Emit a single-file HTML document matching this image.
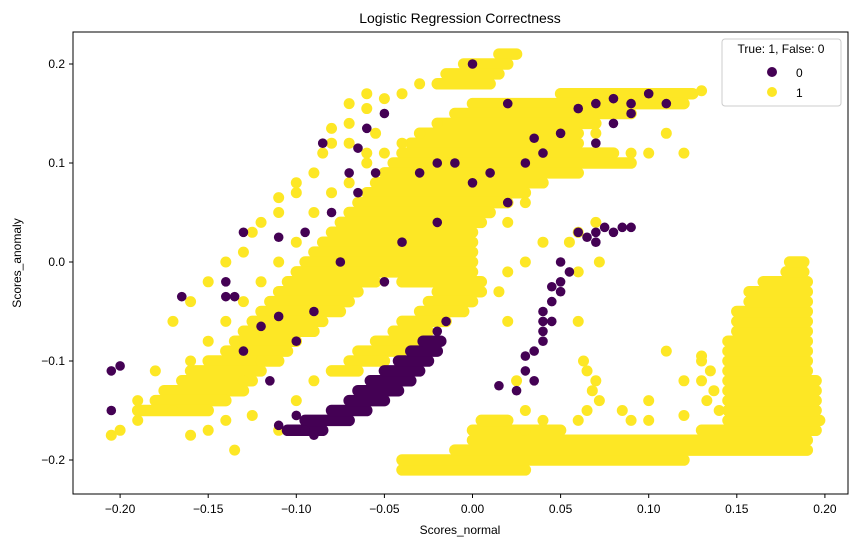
<!DOCTYPE html>
<html><head><meta charset="utf-8"><style>
body{margin:0;background:#fff;}
svg{display:block;font-family:"Liberation Sans","DejaVu Sans",sans-serif;}
</style></head><body>
<svg id="chart" width="858" height="547" viewBox="0 0 858 547" xmlns="http://www.w3.org/2000/svg">
<text x="460" y="23" font-size="14" text-anchor="middle">Logistic Regression Correctness</text>
<g id="plot"></g>
<g id="axes"></g>
<rect x="73" y="32" width="775" height="462" fill="none" stroke="#000" stroke-width="1"/>
<text x="460" y="534" font-size="12" text-anchor="middle">Scores_normal</text>
<text x="21" y="263" font-size="12" text-anchor="middle" transform="rotate(-90 21 263)">Scores_anomaly</text>
<g>
<rect x="722" y="39" width="119" height="67" rx="3" fill="#fff" fill-opacity="0.85" stroke="#ccc"/>
<text x="781" y="53" font-size="12" text-anchor="middle">True: 1, False: 0</text>
<circle cx="772" cy="72" r="5" fill="#440154"/>
<text x="796" y="77" font-size="12">0</text>
<circle cx="772" cy="92" r="5" fill="#fde725"/>
<text x="796" y="97" font-size="12">1</text>
</g>
</svg>
<script>
const xTicks=[-0.20,-0.15,-0.10,-0.05,0.00,0.05,0.10,0.15,0.20];
const xTickLabels=["\u22120.20","\u22120.15","\u22120.10","\u22120.05","0.00","0.05","0.10","0.15","0.20"];
const yTicks=[-0.2,-0.1,0.0,0.1,0.2];
const yTickLabels=["\u22120.2","\u22120.1","0.0","0.1","0.2"];
// dense runs of class-1 points: y value, x start, x end
const yellowRunY =[0.17,0.16,0.15,0.14,0.13,0.12,0.11,0.10,0.09,0.08,0.07,0.06,0.05,0.04,0.03,0.02,0.01,0.0,-0.01,
 -0.02,-0.02,-0.03,-0.03,-0.04,-0.04,-0.05,-0.05,-0.06,-0.06,-0.07,-0.07,-0.08,-0.08,-0.09,-0.09,-0.10,-0.10,-0.11,-0.11,
 -0.12,-0.13,-0.14,-0.15,
 -0.21,-0.20,-0.19,-0.18,-0.17,-0.17,-0.16,-0.16,
 -0.15,-0.14,-0.13,-0.12,-0.11,-0.10,-0.09,-0.08,-0.07,-0.06,-0.05,-0.04,-0.03,-0.02,-0.01,0.0,
 0.21,0.20,0.19,0.18];
const yellowRunX0=[0.05,0.0,-0.01,-0.02,-0.03,-0.035,-0.04,-0.045,-0.05,-0.055,-0.06,-0.065,-0.07,-0.075,-0.08,-0.085,-0.09,-0.095,-0.1,
 -0.105,-0.04,-0.11,-0.02,-0.115,-0.025,-0.12,-0.03,-0.125,-0.04,-0.13,-0.045,-0.135,-0.055,-0.14,-0.065,-0.15,-0.07,-0.16,-0.08,
 -0.165,-0.175,-0.18,-0.19,
 -0.04,-0.04,-0.01,0.0,0.0,0.13,0.005,0.145,
 0.145,0.145,0.145,0.145,0.145,0.145,0.145,0.145,0.15,0.15,0.15,0.157,0.157,0.165,0.178,0.18,
 0.015,-0.005,-0.015,-0.02];
const yellowRunX1=[0.125,0.12,0.09,0.07,0.06,0.06,0.08,0.09,0.06,0.04,0.03,0.02,0.01,0.005,0.0,0.0,0.0,0.0,0.0,
 -0.055,0.005,-0.065,0.005,-0.07,0.0,-0.075,-0.005,-0.085,-0.015,-0.09,-0.025,-0.1,-0.03,-0.105,-0.04,-0.11,-0.05,-0.12,-0.065,
 -0.125,-0.13,-0.14,-0.15,
 0.03,0.12,0.19,0.19,0.05,0.195,0.02,0.197,
 0.195,0.195,0.195,0.195,0.19,0.19,0.19,0.19,0.19,0.19,0.19,0.19,0.19,0.19,0.188,0.188,
 0.025,0.02,0.015,0.01];
const purpleRunY =[-0.17,-0.16,-0.15,-0.14,-0.13,-0.12,-0.11,-0.10,-0.09,-0.08];
const purpleRunX0=[-0.105,-0.095,-0.08,-0.07,-0.065,-0.058,-0.05,-0.042,-0.035,-0.028];
const purpleRunX1=[-0.085,-0.07,-0.06,-0.05,-0.042,-0.035,-0.03,-0.025,-0.02,-0.018];
const yellowPts=[
[0.063,-0.1],[0.065,-0.11],[0.07,-0.12],[0.068,-0.13],[0.072,-0.14],[0.065,-0.15],[0.06,-0.16],[0.13,-0.095],[0.135,-0.11],[0.13,-0.12],[0.137,-0.13],[0.133,-0.14],[0.14,-0.15],[0.12,-0.155],[0.1,-0.16],[0.085,-0.15],[0.03,-0.17],[0.04,-0.16],
[0.1,-0.14],[0.12,-0.12],[0.11,-0.09],[0.13,-0.1],[0.03,-0.15],[0.09,-0.16],
[-0.205,-0.175],[-0.2,-0.17],[-0.19,-0.16],[-0.19,-0.14],[-0.17,-0.15],[-0.16,-0.1],[-0.15,-0.08],[-0.14,-0.06],[-0.13,-0.04],[-0.12,-0.02],[-0.11,0],[-0.1,0.02],[-0.09,0.05],[-0.08,0.07],[-0.07,0.08],[-0.06,0.1],[-0.05,0.11],[-0.04,0.12],[-0.03,0.13],[-0.02,0.14],
[0.09,0.11],[0.1,0.11],[0.12,0.11],[0.11,0.13],[0.07,0.13],[0.13,0.173],
[-0.18,-0.11],[-0.17,-0.06],[-0.16,-0.04],[-0.15,-0.02],[-0.14,0],[-0.13,0.01],[-0.12,0.04],[-0.11,0.05],[-0.1,0.07],[-0.09,0.09],[-0.085,0.11],[-0.08,0.12],[-0.07,0.14],[-0.06,0.155],[-0.05,0.165],[-0.04,0.17],[-0.03,0.18],[-0.1,0.08],[-0.11,0.065],[-0.125,0.03],[-0.12,-0.1],[-0.13,-0.12],[-0.14,-0.16],[-0.15,-0.17],[-0.16,-0.175],[-0.135,-0.19],[-0.11,-0.17],[-0.125,-0.155],[-0.06,0.11],[-0.07,0.12],[-0.055,0.13],[-0.06,0.17],[-0.07,0.16],[-0.08,0.135],
[0.04,0.08],[0.03,0.06],[0.02,0.04],[0.06,0.03],[0.07,0.04],[0.055,0.02],[0.02,-0.01],[0.03,0],[0.04,0.02],[0.015,-0.03],[0.02,-0.06],[0.025,-0.12],[0.06,-0.06],[0.06,-0.01],[0.072,0],[-0.09,-0.12],[-0.1,-0.14]
];
const purplePts=[
[-0.205,-0.11],[-0.2,-0.105],[-0.205,-0.15],[-0.165,-0.035],[-0.13,0.03],[-0.135,-0.035],[-0.14,-0.035],[-0.1,-0.155],[-0.095,-0.17],[-0.09,-0.175],[-0.11,-0.165],[-0.02,-0.07],[-0.015,-0.06],
[0.015,-0.125],[0.025,-0.13],[0.03,-0.11],[0.035,-0.09],[0.04,-0.07],[0.04,-0.05],[0.045,-0.04],[0.05,-0.03],[0.05,-0.02],[0.055,-0.01],[0.05,0],[0.045,-0.06],[0.04,-0.08],[0.03,-0.095],[0.035,-0.12],[0.04,-0.06],[0.045,-0.025],
[0.06,0.03],[0.065,0.025],[0.07,0.03],[0.075,0.035],[0.08,0.03],[0.085,0.035],[0.07,0.02],[0.09,0.035],
[-0.09,-0.05],[-0.1,-0.08],[-0.11,-0.055],[-0.095,0.03],[-0.08,0.05],[-0.075,0],[-0.065,0.07],[-0.055,0.09],[-0.05,-0.02],[-0.04,0.02],[-0.03,0.09],[-0.02,0.04],[-0.01,0.1],[0,0.08],[0.01,0.09],[0.02,0.06],[0.03,0.1],[0.035,0.125],[0.05,0.13],[0.06,0.155],[0.07,0.16],[0.08,0.14],[0.09,0.15],[0.1,0.17],[0.11,0.16],[0.07,0.12],[0.04,0.11],[-0.12,-0.065],[-0.13,-0.09],[-0.115,-0.12],[-0.14,-0.02],[-0.11,0.025],[-0.065,0.115],[-0.05,0.15],[-0.06,0.135],[-0.085,0.12],[-0.07,0.09],[0,0.2],[-0.02,0.1],[0.02,0.16],[0.08,0.165],[0.09,0.16]
];
const NS="http://www.w3.org/2000/svg";
function xScale(v){return 472.5+v*1762;}
function yScale(v){return 262-v*990;}
const plot=document.getElementById('plot');
const axes=document.getElementById('axes');
function drawRuns(ys,x0s,x1s,color,name){
  ys.forEach((y,i)=>{
    const l=document.createElementNS(NS,'line');
    l.setAttribute('x1',xScale(x0s[i]));l.setAttribute('x2',xScale(x1s[i]));
    l.setAttribute('y1',yScale(y));l.setAttribute('y2',yScale(y));
    l.setAttribute('stroke',color);l.setAttribute('stroke-width','11.5');l.setAttribute('stroke-linecap','round');
    
    
    plot.appendChild(l);
  });
}
function drawPts(arr,color,r,name){
  for(const p of arr){
    const c=document.createElementNS(NS,'circle');
    c.setAttribute('cx',xScale(p[0]));c.setAttribute('cy',yScale(p[1]));
    c.setAttribute('r',r);c.setAttribute('fill',color);
    
    
    plot.appendChild(c);
  }
}
drawRuns(yellowRunY,yellowRunX0,yellowRunX1,'#fde725','point-run-true');
drawPts(yellowPts,'#fde725',5.5,'point-true');
drawRuns(purpleRunY,purpleRunX0,purpleRunX1,'#440154','point-run-false');
drawPts(purplePts,'#440154',4.8,'point-false');
xTicks.forEach((t,i)=>{
  const x=xScale(t);
  const l=document.createElementNS(NS,'line');
  l.setAttribute('x1',x);l.setAttribute('x2',x);l.setAttribute('y1',494);l.setAttribute('y2',498);l.setAttribute('stroke','#000');
  
  
  axes.appendChild(l);
  const tx=document.createElementNS(NS,'text');
  tx.setAttribute('x',x);tx.setAttribute('y',513);tx.setAttribute('font-size','12');tx.setAttribute('text-anchor','middle');
  tx.textContent=xTickLabels[i];
  
  
  axes.appendChild(tx);
});
yTicks.forEach((t,i)=>{
  const y=yScale(t);
  const l=document.createElementNS(NS,'line');
  l.setAttribute('x1',69);l.setAttribute('x2',73);l.setAttribute('y1',y);l.setAttribute('y2',y);l.setAttribute('stroke','#000');
  
  
  axes.appendChild(l);
  const tx=document.createElementNS(NS,'text');
  tx.setAttribute('x',65);tx.setAttribute('y',y+4);tx.setAttribute('font-size','12');tx.setAttribute('text-anchor','end');
  tx.textContent=yTickLabels[i];
  
  
  axes.appendChild(tx);
});
</script>
</body></html>
